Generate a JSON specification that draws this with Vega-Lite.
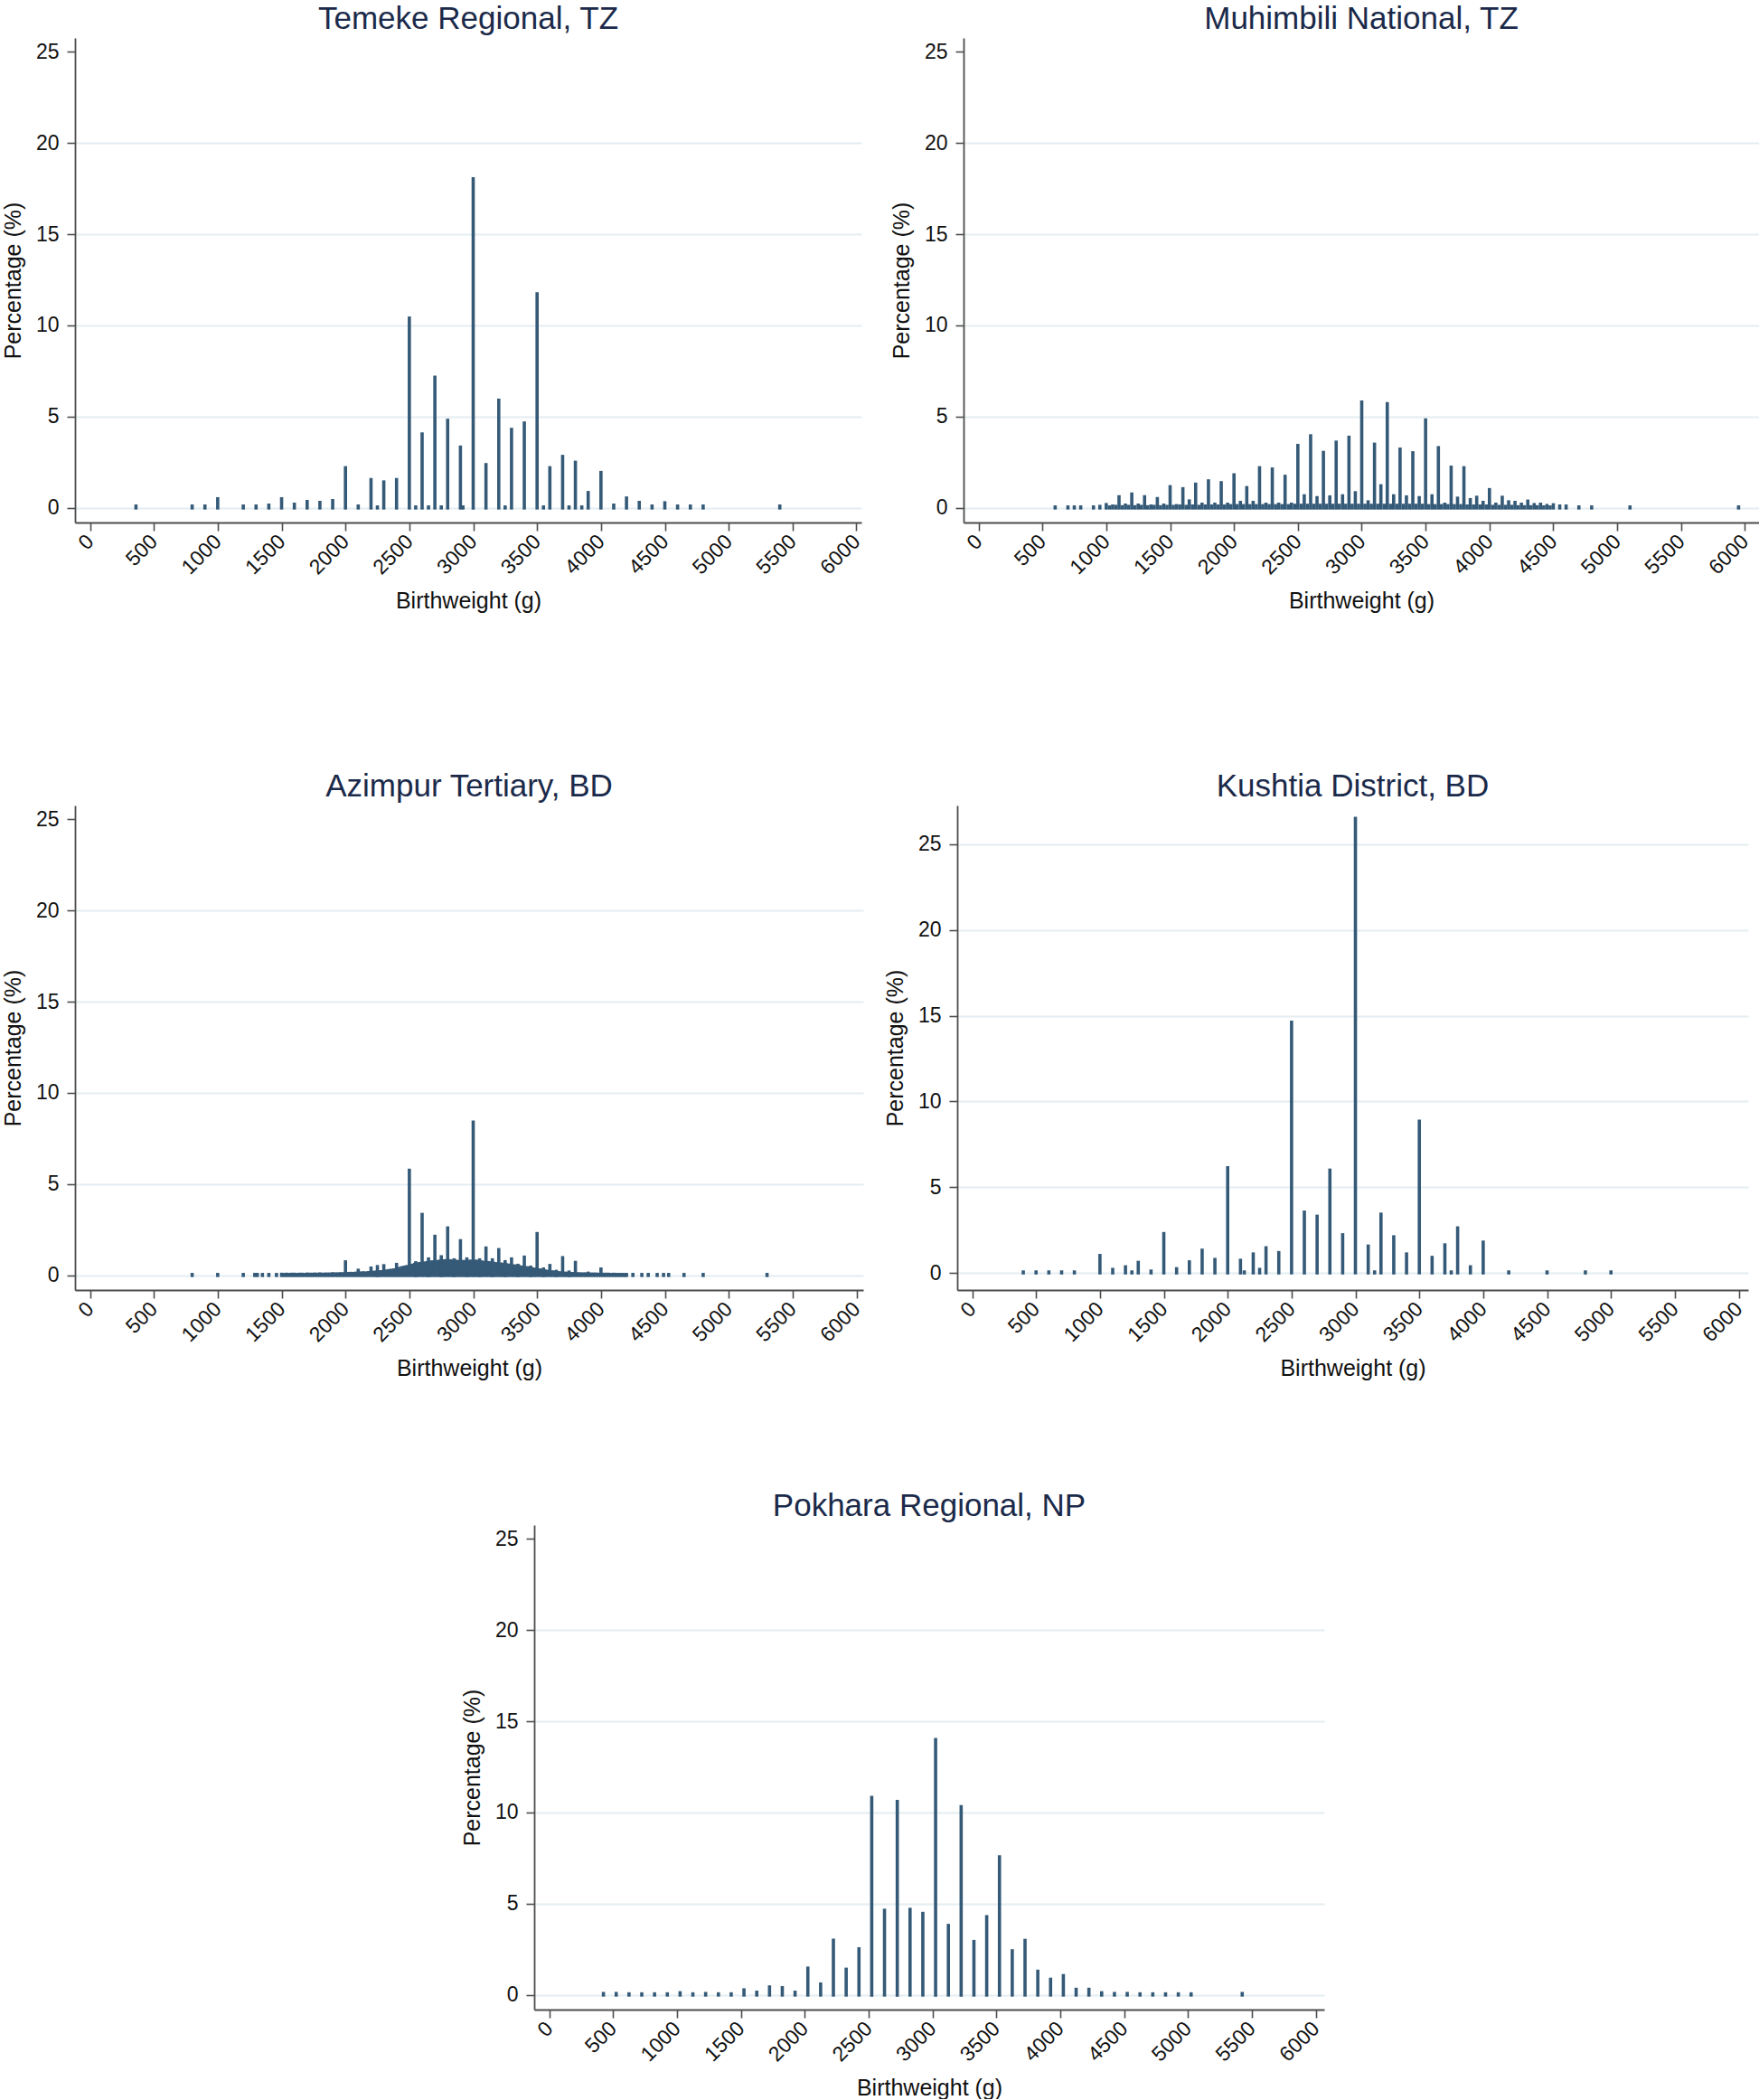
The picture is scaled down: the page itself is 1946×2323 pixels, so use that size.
{
  "$schema": "https://vega.github.io/schema/vega-lite/v6.json",
  "background": "white",
  "padding": {"left": 2, "top": 4, "right": 0, "bottom": 0},
  "spacing": 0,
  "config": {
    "view": {"stroke": null},
    "font": "Liberation Sans",
    "title": {"font": "Liberation Sans", "fontSize": 35, "fontWeight": "normal", "color": "#1b2a4a", "offset": 3, "anchor": "middle", "frame": "group"},
    "axis": {"domainColor": "#4d4d4d", "domainWidth": 1.8, "tickColor": "#4d4d4d", "tickWidth": 1.6, "tickSize": 9, "labelFont": "Liberation Sans", "labelFontSize": 23, "labelColor": "#111111", "titleFont": "Liberation Sans", "titleFontSize": 25, "titleFontWeight": "normal", "titleColor": "#111111", "labelFlush": false, "labelOverlap": false},
    "axisX": {"grid": false, "format": "d", "labelAngle": -45, "labelAlign": "right", "labelBaseline": "middle", "labelPadding": 8, "titlePadding": 10, "minExtent": 64, "maxExtent": 64},
    "axisY": {"grid": true, "gridColor": "#e4edf1", "gridWidth": 2, "labelPadding": 9, "titlePadding": 12, "minExtent": 44, "maxExtent": 44}
  },
  "datasets": {
    "temeke": [
      {"bw":360,"pct":0.1},{"bw":800,"pct":0.1},{"bw":900,"pct":0.1},{"bw":1000,"pct":0.5},{"bw":1200,"pct":0.1},{"bw":1300,"pct":0.1},{"bw":1400,"pct":0.15},{"bw":1500,"pct":0.5},{"bw":1600,"pct":0.2},{"bw":1700,"pct":0.35},{"bw":1800,"pct":0.3},{"bw":1900,"pct":0.4},{"bw":2000,"pct":2.2},{"bw":2100,"pct":0.1},{"bw":2200,"pct":1.55},{"bw":2250,"pct":0.05},{"bw":2300,"pct":1.42},{"bw":2400,"pct":1.55},{"bw":2500,"pct":10.4},{"bw":2550,"pct":0.05},{"bw":2600,"pct":4.05},{"bw":2650,"pct":0.05},{"bw":2700,"pct":7.16},{"bw":2750,"pct":0.05},{"bw":2800,"pct":4.8},{"bw":2900,"pct":3.33},{"bw":2920,"pct":0.05},{"bw":3000,"pct":18.03},{"bw":3100,"pct":2.37},{"bw":3200,"pct":5.9},{"bw":3250,"pct":0.05},{"bw":3300,"pct":4.3},{"bw":3400,"pct":4.65},{"bw":3500,"pct":11.73},{"bw":3550,"pct":0.05},{"bw":3600,"pct":2.2},{"bw":3700,"pct":2.82},{"bw":3750,"pct":0.05},{"bw":3800,"pct":2.5},{"bw":3850,"pct":0.05},{"bw":3900,"pct":0.84},{"bw":4000,"pct":1.94},{"bw":4100,"pct":0.15},{"bw":4200,"pct":0.54},{"bw":4300,"pct":0.3},{"bw":4400,"pct":0.1},{"bw":4500,"pct":0.28},{"bw":4600,"pct":0.1},{"bw":4700,"pct":0.1},{"bw":4800,"pct":0.1},{"bw":5400,"pct":0.1}
    ],
    "muhimbili": [
      {"bw":600,"pct":0.05},{"bw":700,"pct":0.05},{"bw":750,"pct":0.05},{"bw":800,"pct":0.05},{"bw":900,"pct":0.05},{"bw":950,"pct":0.08},{"bw":1000,"pct":0.18},{"bw":1050,"pct":0.1},{"bw":1100,"pct":0.61},{"bw":1150,"pct":0.15},{"bw":1200,"pct":0.76},{"bw":1250,"pct":0.15},{"bw":1300,"pct":0.61},{"bw":1350,"pct":0.1},{"bw":1400,"pct":0.51},{"bw":1450,"pct":0.15},{"bw":1500,"pct":1.16},{"bw":1550,"pct":0.12},{"bw":1600,"pct":1.05},{"bw":1650,"pct":0.38},{"bw":1700,"pct":1.3},{"bw":1750,"pct":0.2},{"bw":1800,"pct":1.48},{"bw":1850,"pct":0.2},{"bw":1900,"pct":1.38},{"bw":1950,"pct":0.2},{"bw":2000,"pct":1.81},{"bw":2050,"pct":0.3},{"bw":2100,"pct":1.11},{"bw":2150,"pct":0.3},{"bw":2200,"pct":2.2},{"bw":2250,"pct":0.2},{"bw":2300,"pct":2.13},{"bw":2350,"pct":0.2},{"bw":2400,"pct":1.73},{"bw":2450,"pct":0.2},{"bw":2500,"pct":3.42},{"bw":2550,"pct":0.66},{"bw":2600,"pct":3.95},{"bw":2650,"pct":0.56},{"bw":2700,"pct":3.04},{"bw":2750,"pct":0.6},{"bw":2800,"pct":3.6},{"bw":2850,"pct":0.66},{"bw":2900,"pct":3.87},{"bw":2950,"pct":0.83},{"bw":3000,"pct":5.8},{"bw":3050,"pct":0.33},{"bw":3100,"pct":3.49},{"bw":3150,"pct":1.21},{"bw":3200,"pct":5.71},{"bw":3250,"pct":0.66},{"bw":3300,"pct":3.22},{"bw":3350,"pct":0.6},{"bw":3400,"pct":3.02},{"bw":3450,"pct":0.56},{"bw":3500,"pct":4.82},{"bw":3550,"pct":0.66},{"bw":3600,"pct":3.3},{"bw":3650,"pct":0.2},{"bw":3700,"pct":2.23},{"bw":3750,"pct":0.53},{"bw":3800,"pct":2.2},{"bw":3850,"pct":0.45},{"bw":3900,"pct":0.58},{"bw":3950,"pct":0.3},{"bw":4000,"pct":1.0},{"bw":4050,"pct":0.2},{"bw":4100,"pct":0.58},{"bw":4150,"pct":0.33},{"bw":4200,"pct":0.3},{"bw":4250,"pct":0.2},{"bw":4300,"pct":0.37},{"bw":4350,"pct":0.18},{"bw":4400,"pct":0.2},{"bw":4450,"pct":0.13},{"bw":4500,"pct":0.17},{"bw":4550,"pct":0.1},{"bw":4600,"pct":0.1},{"bw":4700,"pct":0.05},{"bw":4800,"pct":0.05},{"bw":5100,"pct":0.05},{"bw":5950,"pct":0.05},
      {"bw":1025,"pct":0.05},{"bw":1075,"pct":0.08},{"bw":1125,"pct":0.06},{"bw":1175,"pct":0.08},{"bw":1225,"pct":0.06},{"bw":1275,"pct":0.08},{"bw":1325,"pct":0.06},{"bw":1375,"pct":0.08},{"bw":1425,"pct":0.06},{"bw":1475,"pct":0.08},{"bw":1525,"pct":0.08},{"bw":1575,"pct":0.1},{"bw":1625,"pct":0.08},{"bw":1675,"pct":0.1},{"bw":1725,"pct":0.08},{"bw":1775,"pct":0.1},{"bw":1825,"pct":0.1},{"bw":1875,"pct":0.1},{"bw":1925,"pct":0.1},{"bw":1975,"pct":0.12},{"bw":2025,"pct":0.12},{"bw":2075,"pct":0.12},{"bw":2125,"pct":0.12},{"bw":2175,"pct":0.12},{"bw":2225,"pct":0.12},{"bw":2275,"pct":0.12},{"bw":2325,"pct":0.12},{"bw":2375,"pct":0.12},{"bw":2425,"pct":0.12},{"bw":2475,"pct":0.14},{"bw":2525,"pct":0.14},{"bw":2575,"pct":0.14},{"bw":2625,"pct":0.14},{"bw":2675,"pct":0.14},{"bw":2725,"pct":0.14},{"bw":2775,"pct":0.14},{"bw":2825,"pct":0.14},{"bw":2875,"pct":0.14},{"bw":2925,"pct":0.14},{"bw":2975,"pct":0.14},{"bw":3025,"pct":0.14},{"bw":3075,"pct":0.14},{"bw":3125,"pct":0.14},{"bw":3175,"pct":0.14},{"bw":3225,"pct":0.14},{"bw":3275,"pct":0.14},{"bw":3325,"pct":0.14},{"bw":3375,"pct":0.14},{"bw":3425,"pct":0.14},{"bw":3475,"pct":0.14},{"bw":3525,"pct":0.12},{"bw":3575,"pct":0.12},{"bw":3625,"pct":0.12},{"bw":3675,"pct":0.12},{"bw":3725,"pct":0.12},{"bw":3775,"pct":0.12},{"bw":3825,"pct":0.1},{"bw":3875,"pct":0.1},{"bw":3925,"pct":0.1},{"bw":3975,"pct":0.1},{"bw":4025,"pct":0.08},{"bw":4075,"pct":0.08},{"bw":4125,"pct":0.08},{"bw":4175,"pct":0.08},{"bw":4225,"pct":0.06},{"bw":4275,"pct":0.06},{"bw":4325,"pct":0.06},{"bw":4375,"pct":0.06},{"bw":4425,"pct":0.05},{"bw":4475,"pct":0.05}
    ],
    "azimpur": [
      {"bw":800,"pct":0.05},{"bw":1000,"pct":0.05},{"bw":1200,"pct":0.05},{"bw":1290,"pct":0.05},{"bw":1310,"pct":0.05},{"bw":1350,"pct":0.05},{"bw":1400,"pct":0.05},{"bw":1460,"pct":0.05},
      {"bw":1500,"pct":0.06},{"bw":1520,"pct":0.05},{"bw":1540,"pct":0.06},{"bw":1560,"pct":0.05},{"bw":1580,"pct":0.06},{"bw":1600,"pct":0.06},{"bw":1620,"pct":0.05},{"bw":1640,"pct":0.06},{"bw":1660,"pct":0.06},{"bw":1680,"pct":0.05},{"bw":1700,"pct":0.07},{"bw":1720,"pct":0.06},{"bw":1740,"pct":0.06},{"bw":1760,"pct":0.07},{"bw":1780,"pct":0.06},{"bw":1800,"pct":0.08},{"bw":1820,"pct":0.06},{"bw":1840,"pct":0.07},{"bw":1860,"pct":0.07},{"bw":1880,"pct":0.07},{"bw":1900,"pct":0.09},{"bw":1920,"pct":0.08},{"bw":1940,"pct":0.08},{"bw":1960,"pct":0.09},{"bw":1980,"pct":0.09},
      {"bw":2000,"pct":0.74},{"bw":2020,"pct":0.1},{"bw":2040,"pct":0.11},{"bw":2060,"pct":0.1},{"bw":2080,"pct":0.12},{"bw":2100,"pct":0.28},{"bw":2120,"pct":0.13},{"bw":2140,"pct":0.14},{"bw":2160,"pct":0.13},{"bw":2180,"pct":0.15},{"bw":2200,"pct":0.4},{"bw":2220,"pct":0.17},{"bw":2240,"pct":0.18},{"bw":2250,"pct":0.48},{"bw":2260,"pct":0.19},{"bw":2280,"pct":0.2},{"bw":2300,"pct":0.53},{"bw":2320,"pct":0.24},{"bw":2340,"pct":0.26},{"bw":2360,"pct":0.28},{"bw":2380,"pct":0.3},{"bw":2400,"pct":0.6},{"bw":2420,"pct":0.38},{"bw":2440,"pct":0.42},{"bw":2460,"pct":0.45},{"bw":2480,"pct":0.48},
      {"bw":2500,"pct":5.76},{"bw":2520,"pct":0.55},{"bw":2540,"pct":0.6},{"bw":2550,"pct":0.69},{"bw":2560,"pct":0.62},{"bw":2580,"pct":0.65},{"bw":2600,"pct":3.34},{"bw":2620,"pct":0.68},{"bw":2640,"pct":0.7},{"bw":2650,"pct":0.9},{"bw":2660,"pct":0.72},{"bw":2680,"pct":0.74},{"bw":2700,"pct":2.14},{"bw":2720,"pct":0.76},{"bw":2740,"pct":0.78},{"bw":2750,"pct":1.02},{"bw":2760,"pct":0.8},{"bw":2780,"pct":0.8},{"bw":2800,"pct":2.6},{"bw":2820,"pct":0.8},{"bw":2840,"pct":0.78},{"bw":2850,"pct":0.85},{"bw":2860,"pct":0.78},{"bw":2880,"pct":0.76},{"bw":2900,"pct":1.9},{"bw":2920,"pct":0.76},{"bw":2940,"pct":0.75},{"bw":2950,"pct":0.9},{"bw":2960,"pct":0.76},{"bw":2980,"pct":0.78},
      {"bw":3000,"pct":8.4},{"bw":3020,"pct":0.78},{"bw":3040,"pct":0.76},{"bw":3050,"pct":0.85},{"bw":3060,"pct":0.74},{"bw":3080,"pct":0.72},{"bw":3100,"pct":1.5},{"bw":3120,"pct":0.7},{"bw":3140,"pct":0.68},{"bw":3150,"pct":0.85},{"bw":3160,"pct":0.66},{"bw":3180,"pct":0.64},{"bw":3200,"pct":1.41},{"bw":3220,"pct":0.62},{"bw":3240,"pct":0.6},{"bw":3250,"pct":0.75},{"bw":3260,"pct":0.58},{"bw":3280,"pct":0.56},{"bw":3300,"pct":0.9},{"bw":3320,"pct":0.52},{"bw":3340,"pct":0.5},{"bw":3350,"pct":0.55},{"bw":3360,"pct":0.48},{"bw":3380,"pct":0.45},{"bw":3400,"pct":1.0},{"bw":3420,"pct":0.42},{"bw":3440,"pct":0.4},{"bw":3450,"pct":0.45},{"bw":3460,"pct":0.36},{"bw":3480,"pct":0.34},
      {"bw":3500,"pct":2.29},{"bw":3520,"pct":0.3},{"bw":3540,"pct":0.27},{"bw":3550,"pct":0.35},{"bw":3560,"pct":0.25},{"bw":3580,"pct":0.22},{"bw":3600,"pct":0.54},{"bw":3620,"pct":0.19},{"bw":3640,"pct":0.17},{"bw":3650,"pct":0.22},{"bw":3660,"pct":0.15},{"bw":3680,"pct":0.14},{"bw":3700,"pct":0.97},{"bw":3720,"pct":0.12},{"bw":3740,"pct":0.11},{"bw":3750,"pct":0.18},{"bw":3760,"pct":0.1},{"bw":3780,"pct":0.1},{"bw":3800,"pct":0.71},{"bw":3820,"pct":0.09},{"bw":3840,"pct":0.08},{"bw":3860,"pct":0.08},{"bw":3880,"pct":0.08},{"bw":3900,"pct":0.12},{"bw":3920,"pct":0.07},{"bw":3940,"pct":0.07},{"bw":3960,"pct":0.07},{"bw":3980,"pct":0.06},
      {"bw":4000,"pct":0.35},{"bw":4020,"pct":0.06},{"bw":4040,"pct":0.06},{"bw":4060,"pct":0.06},{"bw":4080,"pct":0.05},{"bw":4100,"pct":0.06},{"bw":4120,"pct":0.05},{"bw":4140,"pct":0.05},{"bw":4160,"pct":0.05},{"bw":4180,"pct":0.05},{"bw":4200,"pct":0.05},
      {"bw":4250,"pct":0.05},{"bw":4320,"pct":0.05},{"bw":4370,"pct":0.05},{"bw":4440,"pct":0.05},{"bw":4490,"pct":0.05},{"bw":4530,"pct":0.05},{"bw":4650,"pct":0.05},{"bw":4800,"pct":0.05},{"bw":5300,"pct":0.05}
    ],
    "kushtia": [
      {"bw":400,"pct":0.05},{"bw":500,"pct":0.05},{"bw":600,"pct":0.05},{"bw":700,"pct":0.05},{"bw":800,"pct":0.05},{"bw":1000,"pct":1.01},{"bw":1100,"pct":0.2},{"bw":1200,"pct":0.35},{"bw":1250,"pct":0.05},{"bw":1300,"pct":0.61},{"bw":1400,"pct":0.1},{"bw":1500,"pct":2.29},{"bw":1600,"pct":0.24},{"bw":1700,"pct":0.64},{"bw":1800,"pct":1.32},{"bw":1900,"pct":0.78},{"bw":2000,"pct":6.13},{"bw":2100,"pct":0.73},{"bw":2130,"pct":0.05},{"bw":2200,"pct":1.1},{"bw":2250,"pct":0.2},{"bw":2300,"pct":1.46},{"bw":2400,"pct":1.18},{"bw":2500,"pct":14.62},{"bw":2600,"pct":3.54},{"bw":2700,"pct":3.3},{"bw":2800,"pct":5.99},{"bw":2900,"pct":2.22},{"bw":3000,"pct":26.5},{"bw":3100,"pct":1.56},{"bw":3150,"pct":0.05},{"bw":3200,"pct":3.42},{"bw":3300,"pct":2.1},{"bw":3400,"pct":1.1},{"bw":3500,"pct":8.84},{"bw":3600,"pct":0.9},{"bw":3700,"pct":1.63},{"bw":3750,"pct":0.05},{"bw":3800,"pct":2.62},{"bw":3900,"pct":0.35},{"bw":4000,"pct":1.79},{"bw":4200,"pct":0.05},{"bw":4500,"pct":0.05},{"bw":4800,"pct":0.05},{"bw":5000,"pct":0.05}
    ],
    "pokhara": [
      {"bw":425,"pct":0.08},{"bw":525,"pct":0.08},{"bw":625,"pct":0.06},{"bw":725,"pct":0.06},{"bw":825,"pct":0.06},{"bw":925,"pct":0.06},{"bw":1025,"pct":0.12},{"bw":1125,"pct":0.06},{"bw":1225,"pct":0.08},{"bw":1325,"pct":0.06},{"bw":1425,"pct":0.06},{"bw":1525,"pct":0.28},{"bw":1625,"pct":0.15},{"bw":1725,"pct":0.44},{"bw":1825,"pct":0.4},{"bw":1925,"pct":0.15},{"bw":2025,"pct":1.47},{"bw":2125,"pct":0.6},{"bw":2225,"pct":3.0},{"bw":2325,"pct":1.41},{"bw":2425,"pct":2.53},{"bw":2525,"pct":10.83},{"bw":2625,"pct":4.64},{"bw":2725,"pct":10.6},{"bw":2825,"pct":4.69},{"bw":2925,"pct":4.47},{"bw":3025,"pct":14.0},{"bw":3125,"pct":3.81},{"bw":3225,"pct":10.32},{"bw":3325,"pct":2.93},{"bw":3425,"pct":4.29},{"bw":3525,"pct":7.57},{"bw":3625,"pct":2.42},{"bw":3725,"pct":2.99},{"bw":3825,"pct":1.3},{"bw":3925,"pct":0.86},{"bw":4025,"pct":1.06},{"bw":4125,"pct":0.31},{"bw":4225,"pct":0.31},{"bw":4325,"pct":0.12},{"bw":4425,"pct":0.08},{"bw":4525,"pct":0.08},{"bw":4625,"pct":0.06},{"bw":4725,"pct":0.06},{"bw":4825,"pct":0.06},{"bw":4925,"pct":0.06},{"bw":5025,"pct":0.06},{"bw":5425,"pct":0.08}
    ]
  },
  "vconcat": [
    {
      "spacing": 29,
      "hconcat": [
        {
          "width": 870, "height": 536,
          "title": "Temeke Regional, TZ",
          "data": {"name": "temeke"},
          "mark": {"type": "rule", "color": "#355a78", "strokeWidth": 3.6, "strokeCap": "square"},
          "encoding": {
            "x": {"field": "bw", "type": "quantitative", "title": "Birthweight (g)", "scale": {"domain": [-117, 6039], "nice": false, "zero": false}, "axis": {"values": [0,500,1000,1500,2000,2500,3000,3500,4000,4500,5000,5500,6000]}},
            "y": {"field": "pct", "type": "quantitative", "title": "Percentage (%)", "scale": {"domain": [-0.8, 25.75], "nice": false, "zero": false}, "axis": {"values": [0,5,10,15,20,25], "gridOpacity": {"condition": {"test": "datum.value === 25", "value": 0}, "value": 1}}},
            "y2": {"datum": 0}
          }
        },
        {
          "width": 880, "height": 536,
          "title": "Muhimbili National, TZ",
          "data": {"name": "muhimbili"},
          "mark": {"type": "rule", "color": "#355a78", "strokeWidth": 3.6, "strokeCap": "square"},
          "encoding": {
            "x": {"field": "bw", "type": "quantitative", "title": "Birthweight (g)", "scale": {"domain": [-117, 6110], "nice": false, "zero": false}, "axis": {"values": [0,500,1000,1500,2000,2500,3000,3500,4000,4500,5000,5500,6000]}},
            "y": {"field": "pct", "type": "quantitative", "title": "Percentage (%)", "scale": {"domain": [-0.8, 25.75], "nice": false, "zero": false}, "axis": {"values": [0,5,10,15,20,25], "gridOpacity": {"condition": {"test": "datum.value === 25", "value": 0}, "value": 1}}},
            "y2": {"datum": 0}
          }
        }
      ]
    },
    {"width": 10, "height": 176, "mark": "point", "data": {"values": []}},
    {
      "spacing": 22,
      "hconcat": [
        {
          "width": 872, "height": 536,
          "title": "Azimpur Tertiary, BD",
          "data": {"name": "azimpur"},
          "mark": {"type": "rule", "color": "#355a78", "strokeWidth": 3.6, "strokeCap": "square"},
          "encoding": {
            "x": {"field": "bw", "type": "quantitative", "title": "Birthweight (g)", "scale": {"domain": [-117, 6053], "nice": false, "zero": false}, "axis": {"values": [0,500,1000,1500,2000,2500,3000,3500,4000,4500,5000,5500,6000]}},
            "y": {"field": "pct", "type": "quantitative", "title": "Percentage (%)", "scale": {"domain": [-0.8, 25.75], "nice": false, "zero": false}, "axis": {"values": [0,5,10,15,20,25], "gridOpacity": {"condition": {"test": "datum.value === 25", "value": 0}, "value": 1}}},
            "y2": {"datum": 0}
          }
        },
        {
          "width": 875, "height": 536,
          "title": "Kushtia District, BD",
          "data": {"name": "kushtia"},
          "mark": {"type": "rule", "color": "#355a78", "strokeWidth": 3.6, "strokeCap": "square"},
          "encoding": {
            "x": {"field": "bw", "type": "quantitative", "title": "Birthweight (g)", "scale": {"domain": [-117, 6074], "nice": false, "zero": false}, "axis": {"values": [0,500,1000,1500,2000,2500,3000,3500,4000,4500,5000,5500,6000]}},
            "y": {"field": "pct", "type": "quantitative", "title": "Percentage (%)", "scale": {"domain": [-1.0, 27.26], "nice": false, "zero": false}, "axis": {"values": [0,5,10,15,20,25]}},
            "y2": {"datum": 0}
          }
        }
      ]
    },
    {"width": 10, "height": 123, "mark": "point", "data": {"values": []}},
    {
      "spacing": 0,
      "hconcat": [
        {"width": 427, "height": 10, "mark": "point", "data": {"values": []}},
        {
          "width": 874, "height": 536,
          "title": "Pokhara Regional, NP",
          "data": {"name": "pokhara"},
          "mark": {"type": "rule", "color": "#355a78", "strokeWidth": 3.6, "strokeCap": "square"},
          "encoding": {
            "x": {"field": "bw", "type": "quantitative", "title": "Birthweight (g)", "scale": {"domain": [-117, 6067], "nice": false, "zero": false}, "axis": {"values": [0,500,1000,1500,2000,2500,3000,3500,4000,4500,5000,5500,6000]}},
            "y": {"field": "pct", "type": "quantitative", "title": "Percentage (%)", "scale": {"domain": [-0.8, 25.75], "nice": false, "zero": false}, "axis": {"values": [0,5,10,15,20,25], "gridOpacity": {"condition": {"test": "datum.value === 25", "value": 0}, "value": 1}}},
            "y2": {"datum": 0}
          }
        }
      ]
    }
  ]
}
